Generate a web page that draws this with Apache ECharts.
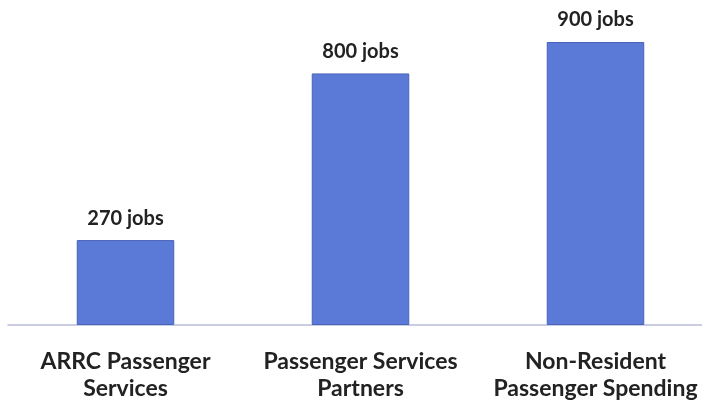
<!DOCTYPE html>
<html><head><meta charset="utf-8">
<script src="https://cdn.jsdelivr.net/npm/echarts@6/dist/echarts.min.js"></script>
<style>html,body{margin:0;padding:0;background:#fff}#c{width:702px;height:404px}</style>
</head><body><div id="c"></div>
<script>
const categories = ['ARRC Passenger\nServices', 'Passenger Services\nPartners', 'Non-Resident\nPassenger Spending'];
const jobs = [270, 800, 900];
const chart = echarts.init(document.getElementById('c'));
chart.setOption({
  animation: false,
  grid: {left: 8, right: -11, top: 42, bottom: 79, containLabel: false, outerBoundsMode: 'none'},
  xAxis: {
    type: 'category', data: categories,
    axisLine: {lineStyle: {color: '#b9bcdc', width: 1.5}},
    axisTick: {show: false},
    axisLabel: {margin: 23, color: '#222', fontFamily: 'Lato', fontWeight: 'bold', fontSize: 23, lineHeight: 27, interval: 0, overflow: 'none'}
  },
  yAxis: {type: 'value', min: 0, max: 900, show: false, splitLine: {show: false}},
  series: [{
    type: 'bar', data: jobs, barWidth: '41.5%',
    itemStyle: {color: '#5b79d7', borderColor: '#4863b8', borderWidth: 1},
    label: {show: true, position: 'top', distance: 12, formatter: '{c} jobs', color: '#222', fontFamily: 'Lato', fontWeight: 'bold', fontSize: 20}
  }]
});
</script></body></html>
